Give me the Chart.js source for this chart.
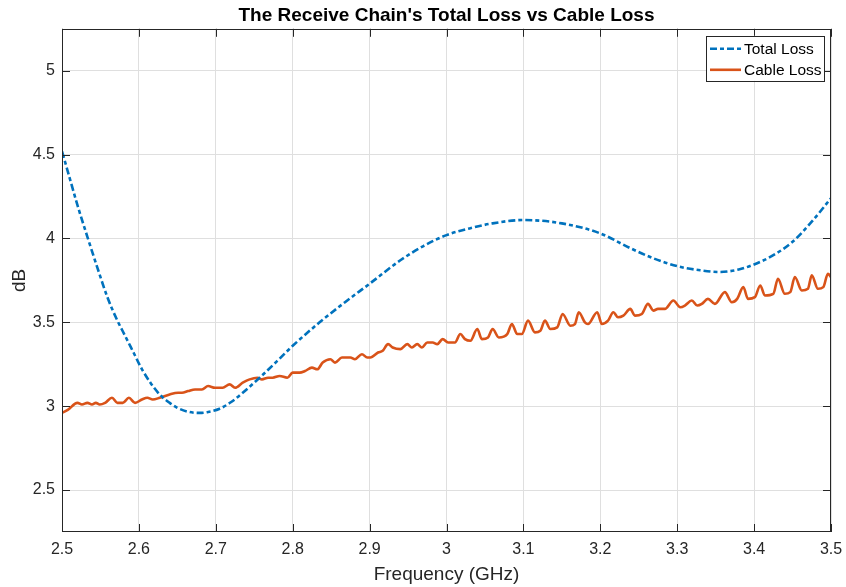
<!DOCTYPE html>
<html>
<head>
<meta charset="utf-8">
<title>The Receive Chain's Total Loss vs Cable Loss</title>
<script src="https://cdn.jsdelivr.net/npm/chart.js@4/dist/chart.umd.min.js"></script>
<style>
  html, body { margin: 0; padding: 0; background: #ffffff; }
  #wrap { width: 846px; height: 587px; }
</style>
</head>
<body>
<div id="wrap"><canvas id="chart" width="846" height="587"></canvas></div>
<script>
// Total loss of the receive chain (GHz, dB)
const freqTotal = [
  2.500, 2.510, 2.520, 2.533, 2.545, 2.559, 2.570, 2.582, 2.593, 2.604,
  2.615, 2.627, 2.640, 2.650, 2.666, 2.679, 2.690, 2.705, 2.720, 2.735,
  2.757, 2.780, 2.800, 2.835, 2.868, 2.900, 2.940, 2.970, 3.000, 3.030,
  3.060, 3.100, 3.150, 3.200, 3.240, 3.270, 3.300, 3.330, 3.355, 3.380,
  3.400, 3.425, 3.450, 3.475, 3.500
];
const totalLoss = [
  4.52, 4.36, 4.20, 4.01, 3.84, 3.65, 3.53, 3.42, 3.32, 3.22,
  3.14, 3.07, 3.02, 2.99, 2.965, 2.96, 2.965, 2.985, 3.025, 3.08,
  3.17, 3.27, 3.36, 3.50, 3.62, 3.73, 3.87, 3.955, 4.02, 4.06,
  4.09, 4.11, 4.09, 4.03, 3.94, 3.88, 3.835, 3.81, 3.80, 3.815,
  3.845, 3.90, 3.98, 4.10, 4.24
];

// Measured cable loss with its ripple (GHz, dB)
const freqCable = [
  2.500, 2.508, 2.520, 2.526, 2.533, 2.539, 2.544, 2.549, 2.556, 2.565,
  2.572, 2.579, 2.587, 2.595, 2.604, 2.611, 2.618, 2.627, 2.640, 2.651,
  2.656, 2.664, 2.673, 2.682, 2.690, 2.699, 2.709, 2.718, 2.725, 2.735,
  2.744, 2.754, 2.760, 2.768, 2.774, 2.783, 2.793, 2.800, 2.809, 2.816,
  2.825, 2.832, 2.839, 2.849, 2.855, 2.864, 2.875, 2.881, 2.890, 2.897,
  2.901, 2.911, 2.917, 2.924, 2.930, 2.940, 2.949, 2.955, 2.962, 2.968,
  2.975, 2.982, 2.988, 2.995, 3.002, 3.011, 3.018, 3.024, 3.031, 3.040,
  3.046, 3.054, 3.060, 3.068, 3.079, 3.085, 3.092, 3.098, 3.106, 3.115,
  3.122, 3.128, 3.135, 3.144, 3.151, 3.161, 3.167, 3.172, 3.180, 3.184,
  3.196, 3.202, 3.210, 3.217, 3.223, 3.230, 3.239, 3.245, 3.254, 3.262,
  3.269, 3.275, 3.284, 3.295, 3.304, 3.310, 3.319, 3.326, 3.332, 3.340,
  3.349, 3.362, 3.371, 3.378, 3.386, 3.392, 3.401, 3.408, 3.414, 3.425,
  3.431, 3.440, 3.447, 3.453, 3.462, 3.470, 3.475, 3.483, 3.490, 3.496,
  3.500
];
const cableLoss = [
  2.96, 2.98, 3.02, 3.01, 3.02, 3.01, 3.02, 3.01, 3.02, 3.05,
  3.02, 3.02, 3.05, 3.02, 3.04, 3.05, 3.04, 3.05, 3.07, 3.08,
  3.08, 3.09, 3.10, 3.10, 3.12, 3.11, 3.11, 3.13, 3.11, 3.14,
  3.16, 3.17, 3.16, 3.17, 3.17, 3.18, 3.17, 3.20, 3.20, 3.21,
  3.23, 3.22, 3.26, 3.28, 3.26, 3.29, 3.29, 3.28, 3.31, 3.29,
  3.29, 3.32, 3.33, 3.37, 3.35, 3.34, 3.37, 3.35, 3.37, 3.35,
  3.38, 3.38, 3.37, 3.40, 3.38, 3.38, 3.43, 3.40, 3.39, 3.46,
  3.40, 3.41, 3.46, 3.41, 3.43, 3.49, 3.43, 3.43, 3.51, 3.44,
  3.45, 3.51, 3.46, 3.47, 3.55, 3.48, 3.49, 3.56, 3.50, 3.49,
  3.56, 3.49, 3.51, 3.56, 3.53, 3.54, 3.58, 3.54, 3.55, 3.61,
  3.57, 3.58, 3.58, 3.63, 3.59, 3.60, 3.63, 3.60, 3.61, 3.64,
  3.61, 3.68, 3.62, 3.64, 3.71, 3.64, 3.65, 3.72, 3.66, 3.67,
  3.76, 3.67, 3.68, 3.77, 3.69, 3.70, 3.78, 3.70, 3.71, 3.79,
  3.77
];

const xTicks = [2.5, 2.6, 2.7, 2.8, 2.9, 3.0, 3.1, 3.2, 3.3, 3.4, 3.5];
const yTicks = [2.5, 3.0, 3.5, 4.0, 4.5, 5.0];

const seriesNames = ['Total Loss', 'Cable Loss'];
const blue = '#0072BD';
const orange = '#D95319';
const ink = '#262626';
const fontFamily = '"Liberation Sans", Arial, Helvetica, sans-serif';

const toPoints = (xs, ys) => xs.map((x, i) => ({ x: x, y: ys[i] }));

// Box around the plot area with inward tick marks on all four sides
const axesFrame = {
  id: 'axesFrame',
  afterDatasetsDraw(chart) {
    const { ctx, chartArea: a, scales } = chart;
    const len = 8;
    ctx.save();
    ctx.strokeStyle = ink;
    ctx.lineWidth = 1;
    ctx.beginPath();
    xTicks.forEach(v => {
      const px = Math.round(scales.x.getPixelForValue(v)) + 0.5;
      ctx.moveTo(px, a.bottom); ctx.lineTo(px, a.bottom - len);
      ctx.moveTo(px, a.top); ctx.lineTo(px, a.top + len);
    });
    yTicks.forEach(v => {
      const py = Math.round(scales.y.getPixelForValue(v)) + 0.5;
      ctx.moveTo(a.left, py); ctx.lineTo(a.left + len, py);
      ctx.moveTo(a.right, py); ctx.lineTo(a.right - len, py);
    });
    ctx.stroke();
    ctx.strokeRect(Math.round(a.left) + 0.5, Math.round(a.top) + 0.5,
                   Math.round(a.right - a.left) - 1, Math.round(a.bottom - a.top) - 1);
    ctx.restore();
  }
};

// Legend box in the upper right corner of the axes
const cornerLegend = {
  id: 'cornerLegend',
  afterDraw(chart) {
    const { ctx, chartArea: a } = chart;
    const boxW = 118, boxH = 45;
    const bx = a.right - 7 - boxW, by = a.top + 7;
    ctx.save();
    ctx.fillStyle = '#ffffff';
    ctx.fillRect(bx, by, boxW, boxH);
    ctx.strokeStyle = ink;
    ctx.lineWidth = 1;
    ctx.strokeRect(Math.round(bx) + 0.5, Math.round(by) + 0.5, boxW, boxH);
    ctx.font = '15.5px ' + fontFamily;
    ctx.textBaseline = 'middle';
    ctx.textAlign = 'left';
    chart.data.datasets.forEach((ds, i) => {
      const ry = by + 13 + i * 21;
      ctx.beginPath();
      ctx.strokeStyle = ds.borderColor;
      ctx.lineWidth = ds.borderWidth;
      ctx.setLineDash(ds.borderDash || []);
      ctx.moveTo(bx + 4, ry);
      ctx.lineTo(bx + 35, ry);
      ctx.stroke();
      ctx.setLineDash([]);
      ctx.fillStyle = '#000000';
      ctx.fillText(ds.label, bx + 38, ry + 1);
    });
    ctx.restore();
  }
};

new Chart(document.getElementById('chart'), {
  type: 'line',
  data: {
    datasets: [
      {
        label: seriesNames[0],
        data: toPoints(freqTotal, totalLoss),
        borderColor: blue,
        backgroundColor: blue,
        borderWidth: 2.6,
        borderDash: [7, 3, 4, 3],
        pointRadius: 0,
        cubicInterpolationMode: 'monotone',
        fill: false
      },
      {
        label: seriesNames[1],
        data: toPoints(freqCable, cableLoss),
        borderColor: orange,
        backgroundColor: orange,
        borderWidth: 2.6,
        pointRadius: 0,
        cubicInterpolationMode: 'monotone',
        fill: false
      }
    ]
  },
  options: {
    responsive: false,
    devicePixelRatio: 1,
    animation: false,
    layout: { autoPadding: false, padding: { left: 0, right: 15, top: 0, bottom: 0 } },
    plugins: {
      legend: { display: false },
      tooltip: { enabled: false },
      title: {
        display: true,
        fullSize: false,
        text: "The Receive Chain's Total Loss vs Cable Loss",
        color: '#000000',
        font: { family: fontFamily, size: 19, weight: 'bold', lineHeight: 1.2 },
        padding: { top: 4, bottom: 2 }
      }
    },
    scales: {
      x: {
        type: 'linear',
        min: 2.5,
        max: 3.5,
        afterBuildTicks: s => { s.ticks = xTicks.map(v => ({ value: v })); },
        afterFit: s => { s.height = 55; s.paddingLeft = 0; s.paddingRight = 0; },
        grid: { color: '#dfdfdf', lineWidth: 1, drawTicks: false },
        border: { display: false },
        ticks: {
          color: ink,
          padding: 8,
          maxRotation: 0,
          font: { family: fontFamily, size: 16 },
          callback: v => String(Number(v.toFixed(1)))
        },
        title: {
          display: true,
          text: 'Frequency (GHz)',
          color: ink,
          font: { family: fontFamily, size: 19 },
          padding: { top: 0, bottom: 1 }
        }
      },
      y: {
        type: 'linear',
        min: 2.25,
        max: 5.25,
        afterBuildTicks: s => { s.ticks = yTicks.map(v => ({ value: v })); },
        afterFit: s => { s.width = 62; s.paddingTop = 0; s.paddingBottom = 0; },
        grid: { color: '#dfdfdf', lineWidth: 1, drawTicks: false },
        border: { display: false },
        ticks: {
          color: ink,
          padding: 7,
          font: { family: fontFamily, size: 16 },
          callback: v => String(Number(v.toFixed(1)))
        },
        title: {
          display: true,
          text: 'dB',
          color: ink,
          font: { family: fontFamily, size: 19 },
          padding: 8
        }
      }
    }
  },
  plugins: [axesFrame, cornerLegend]
});
</script>
</body>
</html>
